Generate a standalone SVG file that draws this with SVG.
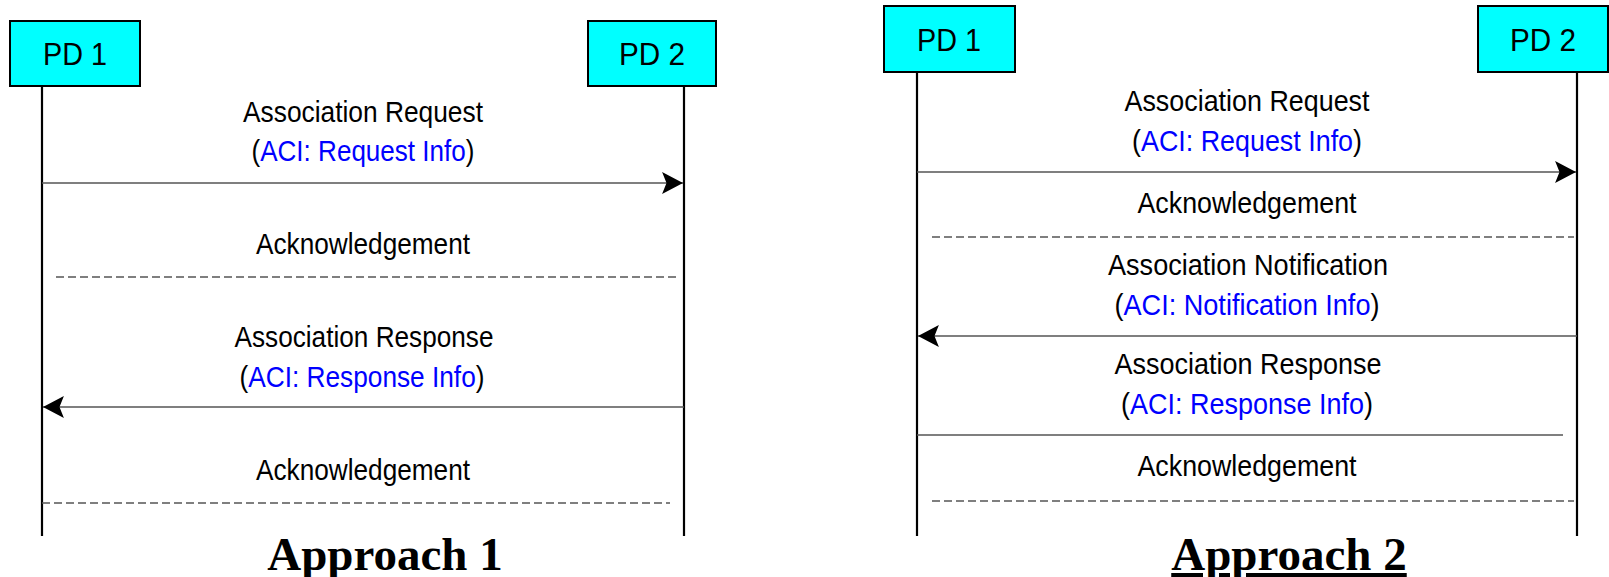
<svg xmlns="http://www.w3.org/2000/svg" width="1609" height="577" viewBox="0 0 1609 577">
<style>
.box{fill:#00FFFF;stroke:#000;stroke-width:2}
.life{stroke:#000;stroke-width:2.2;fill:none}
.msg{stroke:#555;stroke-width:1.6;fill:none}
.ack{stroke:#555;stroke-width:1.4;stroke-dasharray:8 4;fill:none}
.lbl{font-family:"Liberation Sans Narrow","Liberation Sans",Arial,sans-serif;font-size:30px;fill:#000;text-anchor:middle}
.pd{font-family:"Liberation Sans Narrow","Liberation Sans",Arial,sans-serif;font-size:32px;fill:#000;text-anchor:middle}
.blue{fill:#0000FF}
.title{font-family:"Liberation Serif","Times New Roman",serif;font-weight:bold;font-size:47px;fill:#000;text-anchor:middle}
</style>
<defs>
<marker id="ah" markerUnits="userSpaceOnUse" markerWidth="22" markerHeight="22" viewBox="-19 -10 20 20" refX="0" refY="0" orient="auto">
<path d="M0,0 L-19,-10 L-15,0 L-19,10 Z" fill="#000"/>
</marker>
</defs>

<!-- Approach 1 -->
<g id="a1-pd1">
<rect class="box" x="10" y="21" width="130" height="65"/>
<text class="pd" x="75" y="65" textLength="64" lengthAdjust="spacingAndGlyphs">PD 1</text>
</g>
<g id="a1-pd2">
<rect class="box" x="588" y="21" width="128" height="65"/>
<text class="pd" x="652" y="65" textLength="66" lengthAdjust="spacingAndGlyphs">PD 2</text>
</g>
<g id="a1-lifelines">
<line class="life" x1="42" y1="86" x2="42" y2="536"/>
<line class="life" x1="684" y1="86" x2="684" y2="536"/>
</g>
<g id="a1-connectors">
<line class="msg" x1="42" y1="183" x2="683" y2="183" marker-end="url(#ah)"/>
<line class="ack" x1="56" y1="277" x2="680" y2="277"/>
<line class="msg" x1="684" y1="407" x2="43" y2="407" marker-end="url(#ah)"/>
<line class="ack" x1="42" y1="503" x2="670" y2="503"/>
</g>
<g id="a1-labels">
<text class="lbl" x="363" y="122" textLength="240" lengthAdjust="spacingAndGlyphs">Association Request</text>
<text class="lbl" x="363" y="161" textLength="223" lengthAdjust="spacingAndGlyphs">(<tspan class="blue">ACI: Request Info</tspan>)</text>
<text class="lbl" x="363" y="254" textLength="214" lengthAdjust="spacingAndGlyphs">Acknowledgement</text>
<text class="lbl" x="364" y="347" textLength="259" lengthAdjust="spacingAndGlyphs">Association Response</text>
<text class="lbl" x="362" y="387" textLength="245" lengthAdjust="spacingAndGlyphs">(<tspan class="blue">ACI: Response Info</tspan>)</text>
<text class="lbl" x="363" y="480" textLength="214" lengthAdjust="spacingAndGlyphs">Acknowledgement</text>
</g>
<text class="title" x="385" y="570">Approach 1</text>

<!-- Approach 2 -->
<g id="a2-pd1">
<rect class="box" x="884" y="6" width="131" height="66"/>
<text class="pd" x="949" y="51" textLength="64" lengthAdjust="spacingAndGlyphs">PD 1</text>
</g>
<g id="a2-pd2">
<rect class="box" x="1478" y="6" width="130" height="66"/>
<text class="pd" x="1543" y="51" textLength="66" lengthAdjust="spacingAndGlyphs">PD 2</text>
</g>
<g id="a2-lifelines">
<line class="life" x1="917" y1="72" x2="917" y2="536"/>
<line class="life" x1="1577" y1="72" x2="1577" y2="536"/>
</g>
<g id="a2-connectors">
<line class="msg" x1="917" y1="172" x2="1576" y2="172" marker-end="url(#ah)"/>
<line class="ack" x1="932" y1="237" x2="1574" y2="237"/>
<line class="msg" x1="1577" y1="336" x2="918" y2="336" marker-end="url(#ah)"/>
<line class="msg" x1="917" y1="435" x2="1563" y2="435"/>
<line class="ack" x1="932" y1="501" x2="1574" y2="501"/>
</g>
<g id="a2-labels">
<text class="lbl" x="1247" y="111" textLength="245" lengthAdjust="spacingAndGlyphs">Association Request</text>
<text class="lbl" x="1247" y="151" textLength="230" lengthAdjust="spacingAndGlyphs">(<tspan class="blue">ACI: Request Info</tspan>)</text>
<text class="lbl" x="1247" y="213" textLength="219" lengthAdjust="spacingAndGlyphs">Acknowledgement</text>
<text class="lbl" x="1248" y="275" textLength="280" lengthAdjust="spacingAndGlyphs">Association Notification</text>
<text class="lbl" x="1247" y="315" textLength="265" lengthAdjust="spacingAndGlyphs">(<tspan class="blue">ACI: Notification Info</tspan>)</text>
<text class="lbl" x="1248" y="374" textLength="267" lengthAdjust="spacingAndGlyphs">Association Response</text>
<text class="lbl" x="1247" y="414" textLength="252" lengthAdjust="spacingAndGlyphs">(<tspan class="blue">ACI: Response Info</tspan>)</text>
<text class="lbl" x="1247" y="476" textLength="219" lengthAdjust="spacingAndGlyphs">Acknowledgement</text>
</g>
<text class="title" x="1289" y="570" text-decoration="underline">Approach 2</text>
</svg>
